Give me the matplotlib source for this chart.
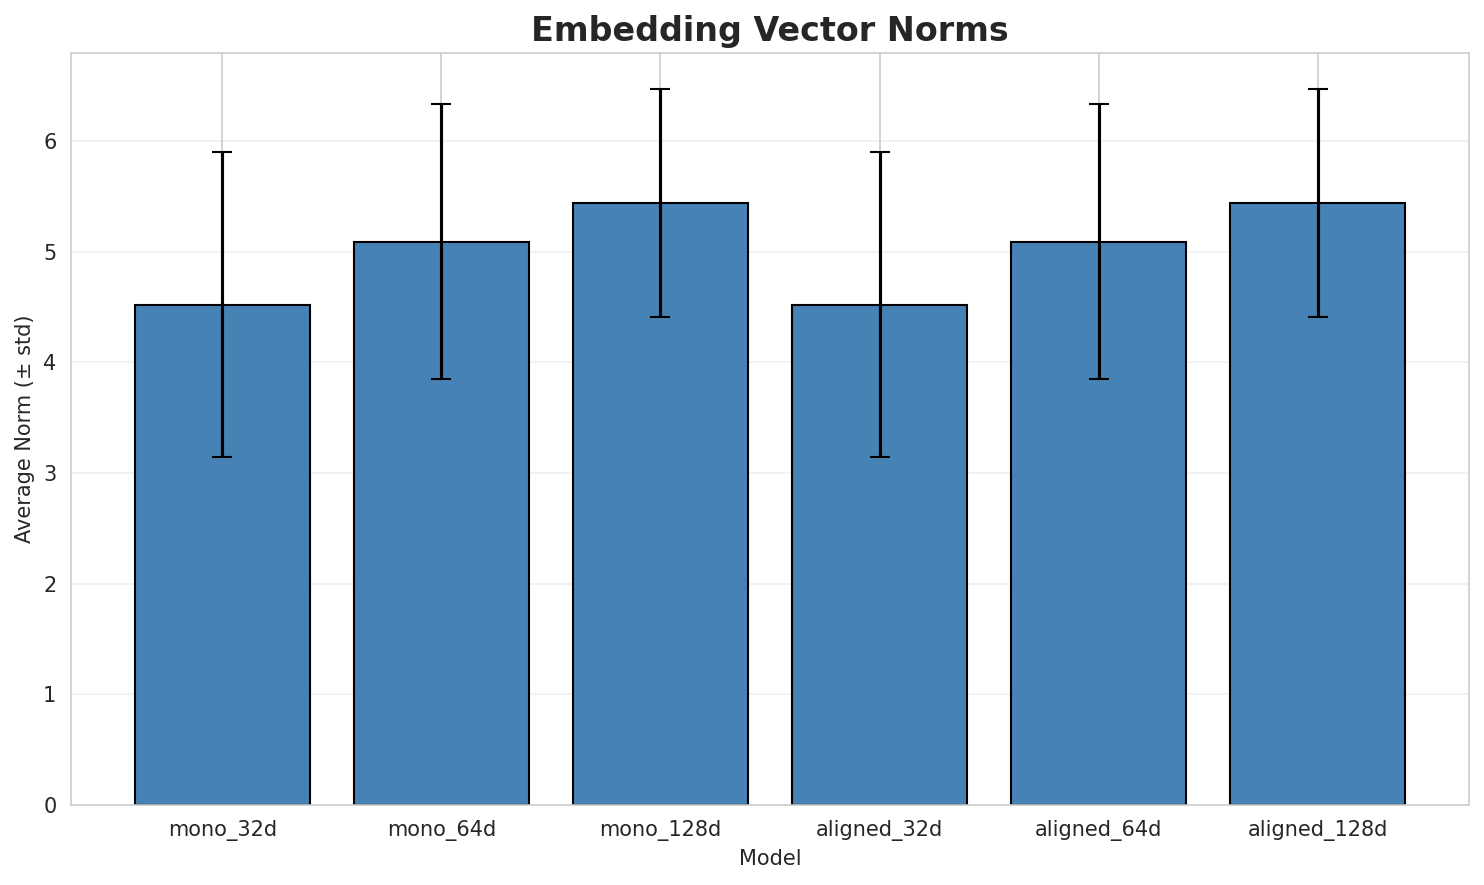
import numpy as np
import matplotlib
matplotlib.use("Agg")
import matplotlib.pyplot as plt
import seaborn as sns

sns.set_style("whitegrid")

models = ["mono_32d", "mono_64d", "mono_128d", "aligned_32d", "aligned_64d", "aligned_128d"]
mean_norms = [4.52, 5.09, 5.44, 4.52, 5.09, 5.44]
std_norms = [1.38, 1.24, 1.03, 1.38, 1.24, 1.03]

fig, ax = plt.subplots(figsize=(1484 / 150, 885 / 150), dpi=150)

x = np.arange(len(models))
ax.bar(x, mean_norms, yerr=std_norms, capsize=5, color="steelblue",
       edgecolor="black", linewidth=1,
       error_kw={"elinewidth": 1.5, "ecolor": "black"})

ax.set_xticks(x)
ax.set_xticklabels(models)
ax.set_xlabel("Model")
ax.set_ylabel("Average Norm (± std)")
ax.set_title("Embedding Vector Norms", fontsize=16, fontweight="bold")
ax.grid(axis="y", alpha=0.3)

plt.subplots_adjust(left=71 / 1484, right=1469 / 1484, top=1 - 53 / 885, bottom=1 - 805 / 885)
plt.savefig("out.png", dpi=150)
